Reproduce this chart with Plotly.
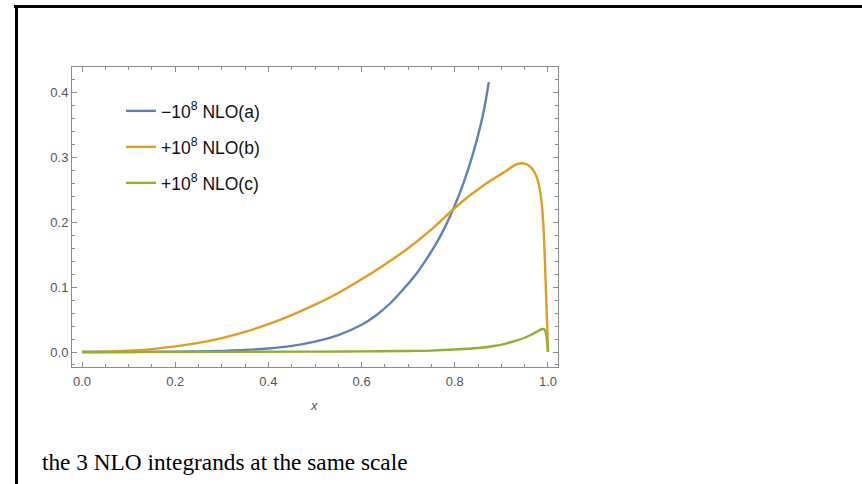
import plotly.graph_objects as go

# ---- data ----
x_a = [0, 0.1, 0.2, 0.25, 0.3, 0.35, 0.4, 0.45, 0.5, 0.55, 0.6, 0.63, 0.66, 0.69, 0.72,
       0.74, 0.76, 0.78, 0.8, 0.82, 0.84, 0.86, 0.873]
y_a = [0, 0.0001, 0.0004, 0.0009, 0.0017, 0.003, 0.0055, 0.0095, 0.016, 0.026, 0.042,
       0.056, 0.074, 0.097, 0.123, 0.144, 0.167, 0.194, 0.226, 0.263, 0.308, 0.364, 0.416]

x_b = [0, 0.05, 0.1, 0.15, 0.2, 0.25, 0.3, 0.35, 0.4, 0.45, 0.5, 0.55, 0.6, 0.65, 0.7,
       0.75, 0.8, 0.83, 0.86, 0.89, 0.91, 0.925, 0.935, 0.945, 0.955, 0.965, 0.972,
       0.978, 0.983, 0.987, 0.99, 0.992, 0.994, 0.996, 0.998, 0.999, 1.0]
y_b = [0, 0.0005, 0.002, 0.0045, 0.0087, 0.014, 0.0215, 0.031, 0.043, 0.057, 0.073,
       0.091, 0.112, 0.135, 0.160, 0.189, 0.222, 0.240, 0.256, 0.270, 0.279, 0.2865,
       0.2900, 0.2910, 0.2890, 0.2835, 0.276, 0.265, 0.248, 0.226, 0.197, 0.167, 0.128,
       0.087, 0.046, 0.024, 0]

x_c = [0, 0.3, 0.5, 0.6, 0.7, 0.75, 0.8, 0.85, 0.88, 0.91, 0.93, 0.95, 0.965, 0.975,
       0.983, 0.988, 0.992, 0.995, 0.997, 0.999, 1.0]
y_c = [0, 0.0002, 0.0006, 0.001, 0.0016, 0.0022, 0.0038, 0.0062, 0.0088, 0.013, 0.017,
       0.022, 0.027, 0.031, 0.034, 0.0355, 0.035, 0.031, 0.023, 0.009, 0]

names = ["\u221210<sup>8</sup> NLO(a)", "+10<sup>8</sup> NLO(b)", "+10<sup>8</sup> NLO(c)"]
colors = ["#5E81B5", "#E19C24", "#8FB032"]
caption = "the 3 NLO integrands at the same scale"

x_ticks = [0.0, 0.2, 0.4, 0.6, 0.8, 1.0]
y_ticks = [0.0, 0.1, 0.2, 0.3, 0.4]

# ---- figure ----
W, H = 862, 484
L, R, T, B = 72, 558, 67, 367  # plot area in pixels


def px(X):
    return (X - L) / (R - L)


def py(Y):
    return (B - Y) / (B - T)


fig = go.Figure()
legends = ["legend", "legend2", "legend3"]
for xs, ys, nm, c, lg in zip([x_a, x_b, x_c], [y_a, y_b, y_c], names, colors, legends):
    fig.add_trace(go.Scatter(x=xs, y=ys, mode="lines", name=nm, legend=lg,
                             line=dict(color=c, width=2.4, shape="spline", smoothing=1.0)))

frame = "#8a8a8a"
tickfont = dict(family="Liberation Sans, Arial, sans-serif", size=13, color="#555555")
axis_common = dict(showline=True, linecolor=frame, linewidth=1, mirror="ticks",
                   ticks="inside", ticklen=5, tickcolor=frame, tickwidth=1,
                   showgrid=False, zeroline=False, tickfont=tickfont)

fig.update_xaxes(range=[-0.0215, 1.0215], tickvals=x_ticks,
                 ticktext=[f"{v:.1f}" for v in x_ticks], ticklabelstandoff=2,
                 minor=dict(ticks="inside", ticklen=3, dtick=0.05, tick0=0,
                            tickcolor=frame, showgrid=False),
                 **axis_common)
fig.update_yaxes(range=[-0.0231, 0.4393], tickvals=y_ticks,
                 ticktext=[f"{v:.1f}" for v in y_ticks],
                 minor=dict(ticks="inside", ticklen=3, dtick=0.02, tick0=0,
                            tickcolor=frame, showgrid=False),
                 **axis_common)

legfont = dict(family="Liberation Sans, Arial, sans-serif", size=17.5, color="#111111")
leg_rows = [111, 147, 183]
leg_kw = {}
for lg, Y in zip(legends, leg_rows):
    leg_kw[lg] = dict(x=px(121), y=py(Y), xanchor="left", yanchor="middle",
                      bgcolor="rgba(0,0,0,0)", borderwidth=0, font=legfont)

fig.update_layout(
    width=W, height=H,
    margin=dict(l=L, r=W - R, t=T, b=H - B, autoexpand=False),
    paper_bgcolor="white", plot_bgcolor="white",
    showlegend=True,
    **leg_kw,
    shapes=[
        dict(type="line", xref="paper", yref="paper", x0=px(14), x1=px(862),
             y0=py(6.5), y1=py(6.5), line=dict(color="black", width=3)),
        dict(type="line", xref="paper", yref="paper", x0=px(16.5), x1=px(16.5),
             y0=py(5), y1=py(484), line=dict(color="black", width=3)),
    ],
    annotations=[
        dict(text="<i>x</i>", xref="paper", yref="paper", x=px(314), y=py(406),
             xanchor="center", yanchor="middle", showarrow=False,
             font=dict(family="Liberation Sans, Arial, sans-serif", size=13, color="#555555")),
        dict(text=caption, xref="paper", yref="paper", x=px(40), y=py(462),
             xanchor="left", yanchor="middle", showarrow=False,
             font=dict(family="Liberation Serif, Times New Roman, serif", size=23.3, color="black")),
    ],
)

fig.write_html("out.html")
